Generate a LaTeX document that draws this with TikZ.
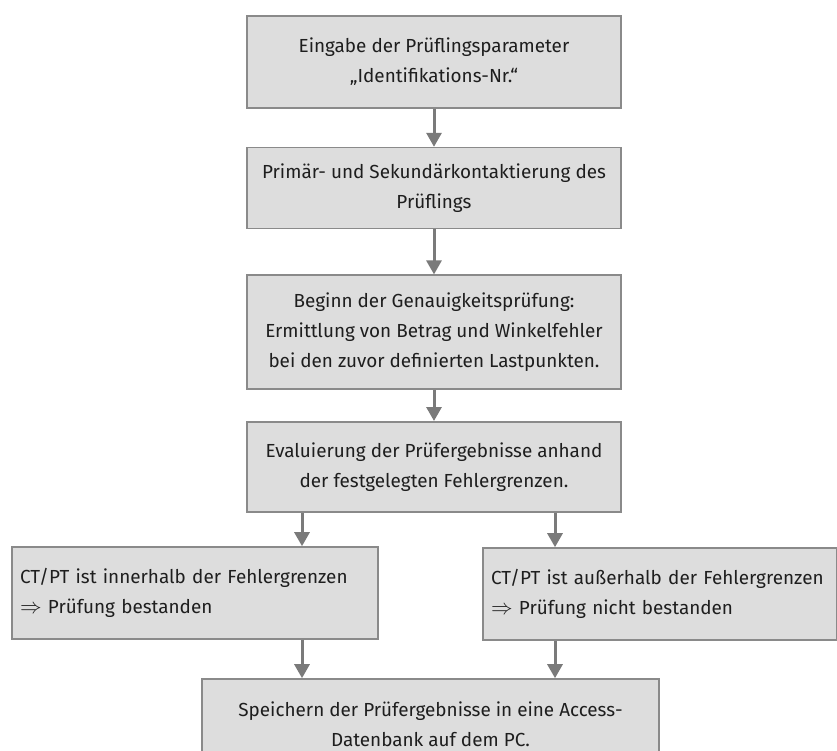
\documentclass[tikz,border=0pt]{standalone}
\usepackage{fontspec}
\setmainfont{Fira Sans}
\usetikzlibrary{arrows.meta, positioning}
\definecolor{cfill}{HTML}{DDDDDD}
\definecolor{cline}{HTML}{8A8A8A}
\definecolor{carrow}{HTML}{7A7A7A}
\definecolor{ctext}{HTML}{1E1E1E}
\newcommand{\thenarrow}{\scalebox{1.25}{$\Rightarrow$}}
\tikzset{
  every picture/.style={font=\fontsize{18.9}{30}\selectfont, text=ctext},
  stepbox/.style={draw=cline, fill=cfill, line width=1.6pt, align=center, inner sep=6pt,
    minimum width=374pt},
  arrow/.style={-{Triangle[width=15pt, length=14pt]}, draw=carrow, line width=3pt},
}

\begin{document}
\begin{tikzpicture}[node distance=38pt,
  result/.style={stepbox, align=left, inner xsep=8pt, minimum width=#1, text width=#1-16pt, minimum height=92pt}]
  \useasboundingbox (0,0) rectangle (837pt,-751pt);
  \node[stepbox, minimum height=92pt] (input) at (434pt,-62pt)
    {Eingabe der Prüflingsparameter\\„Identifikations-Nr.“};
  \node[stepbox, minimum height=81pt, below=38pt of input] (contact)
    {Primär- und Sekundärkontaktierung des\\Prüflings};
  \node[stepbox, minimum height=114pt, below=45pt of contact] (measure)
    {Beginn der Genauigkeitsprüfung:\\Ermittlung von Betrag und Winkelfehler\\bei den zuvor definierten Lastpunkten.};
  \node[stepbox, minimum height=90pt, below=31pt of measure] (eval)
    {Evaluierung der Prüfergebnisse anhand\\der festgelegten Fehlergrenzen.};
  \node[result=366pt] (pass) at (195pt,-593pt)
    {CT/PT ist innerhalb der Fehlergrenzen\\\thenarrow\ Prüfung bestanden};
  \node[result=354pt] (fail) at (660pt,-594pt)
    {\mbox{CT/PT ist außerhalb der Fehlergrenzen}\\\thenarrow\ Prüfung nicht bestanden};
  \node[stepbox, minimum width=457pt, minimum height=90pt] (save) at (430.5pt,-724pt)
    {Speichern der Prüfergebnisse in eine Access-\\Datenbank auf dem PC.};
  \draw[arrow] (input) -- (contact);
  \draw[arrow] (contact) -- (measure);
  \draw[arrow] (measure) -- (eval);
  \draw[arrow] ([xshift=-132pt]eval.south) -- ([xshift=-132pt]eval.south |- pass.north);
  \draw[arrow] ([xshift=121pt]eval.south) -- ([xshift=121pt]eval.south |- fail.north);
  \draw[arrow] ([xshift=-132pt]eval.south |- pass.south) -- ([xshift=-132pt]eval.south |- save.north);
  \draw[arrow] ([xshift=121pt]eval.south |- fail.south) -- ([xshift=121pt]eval.south |- save.north);
\end{tikzpicture}
\end{document}
